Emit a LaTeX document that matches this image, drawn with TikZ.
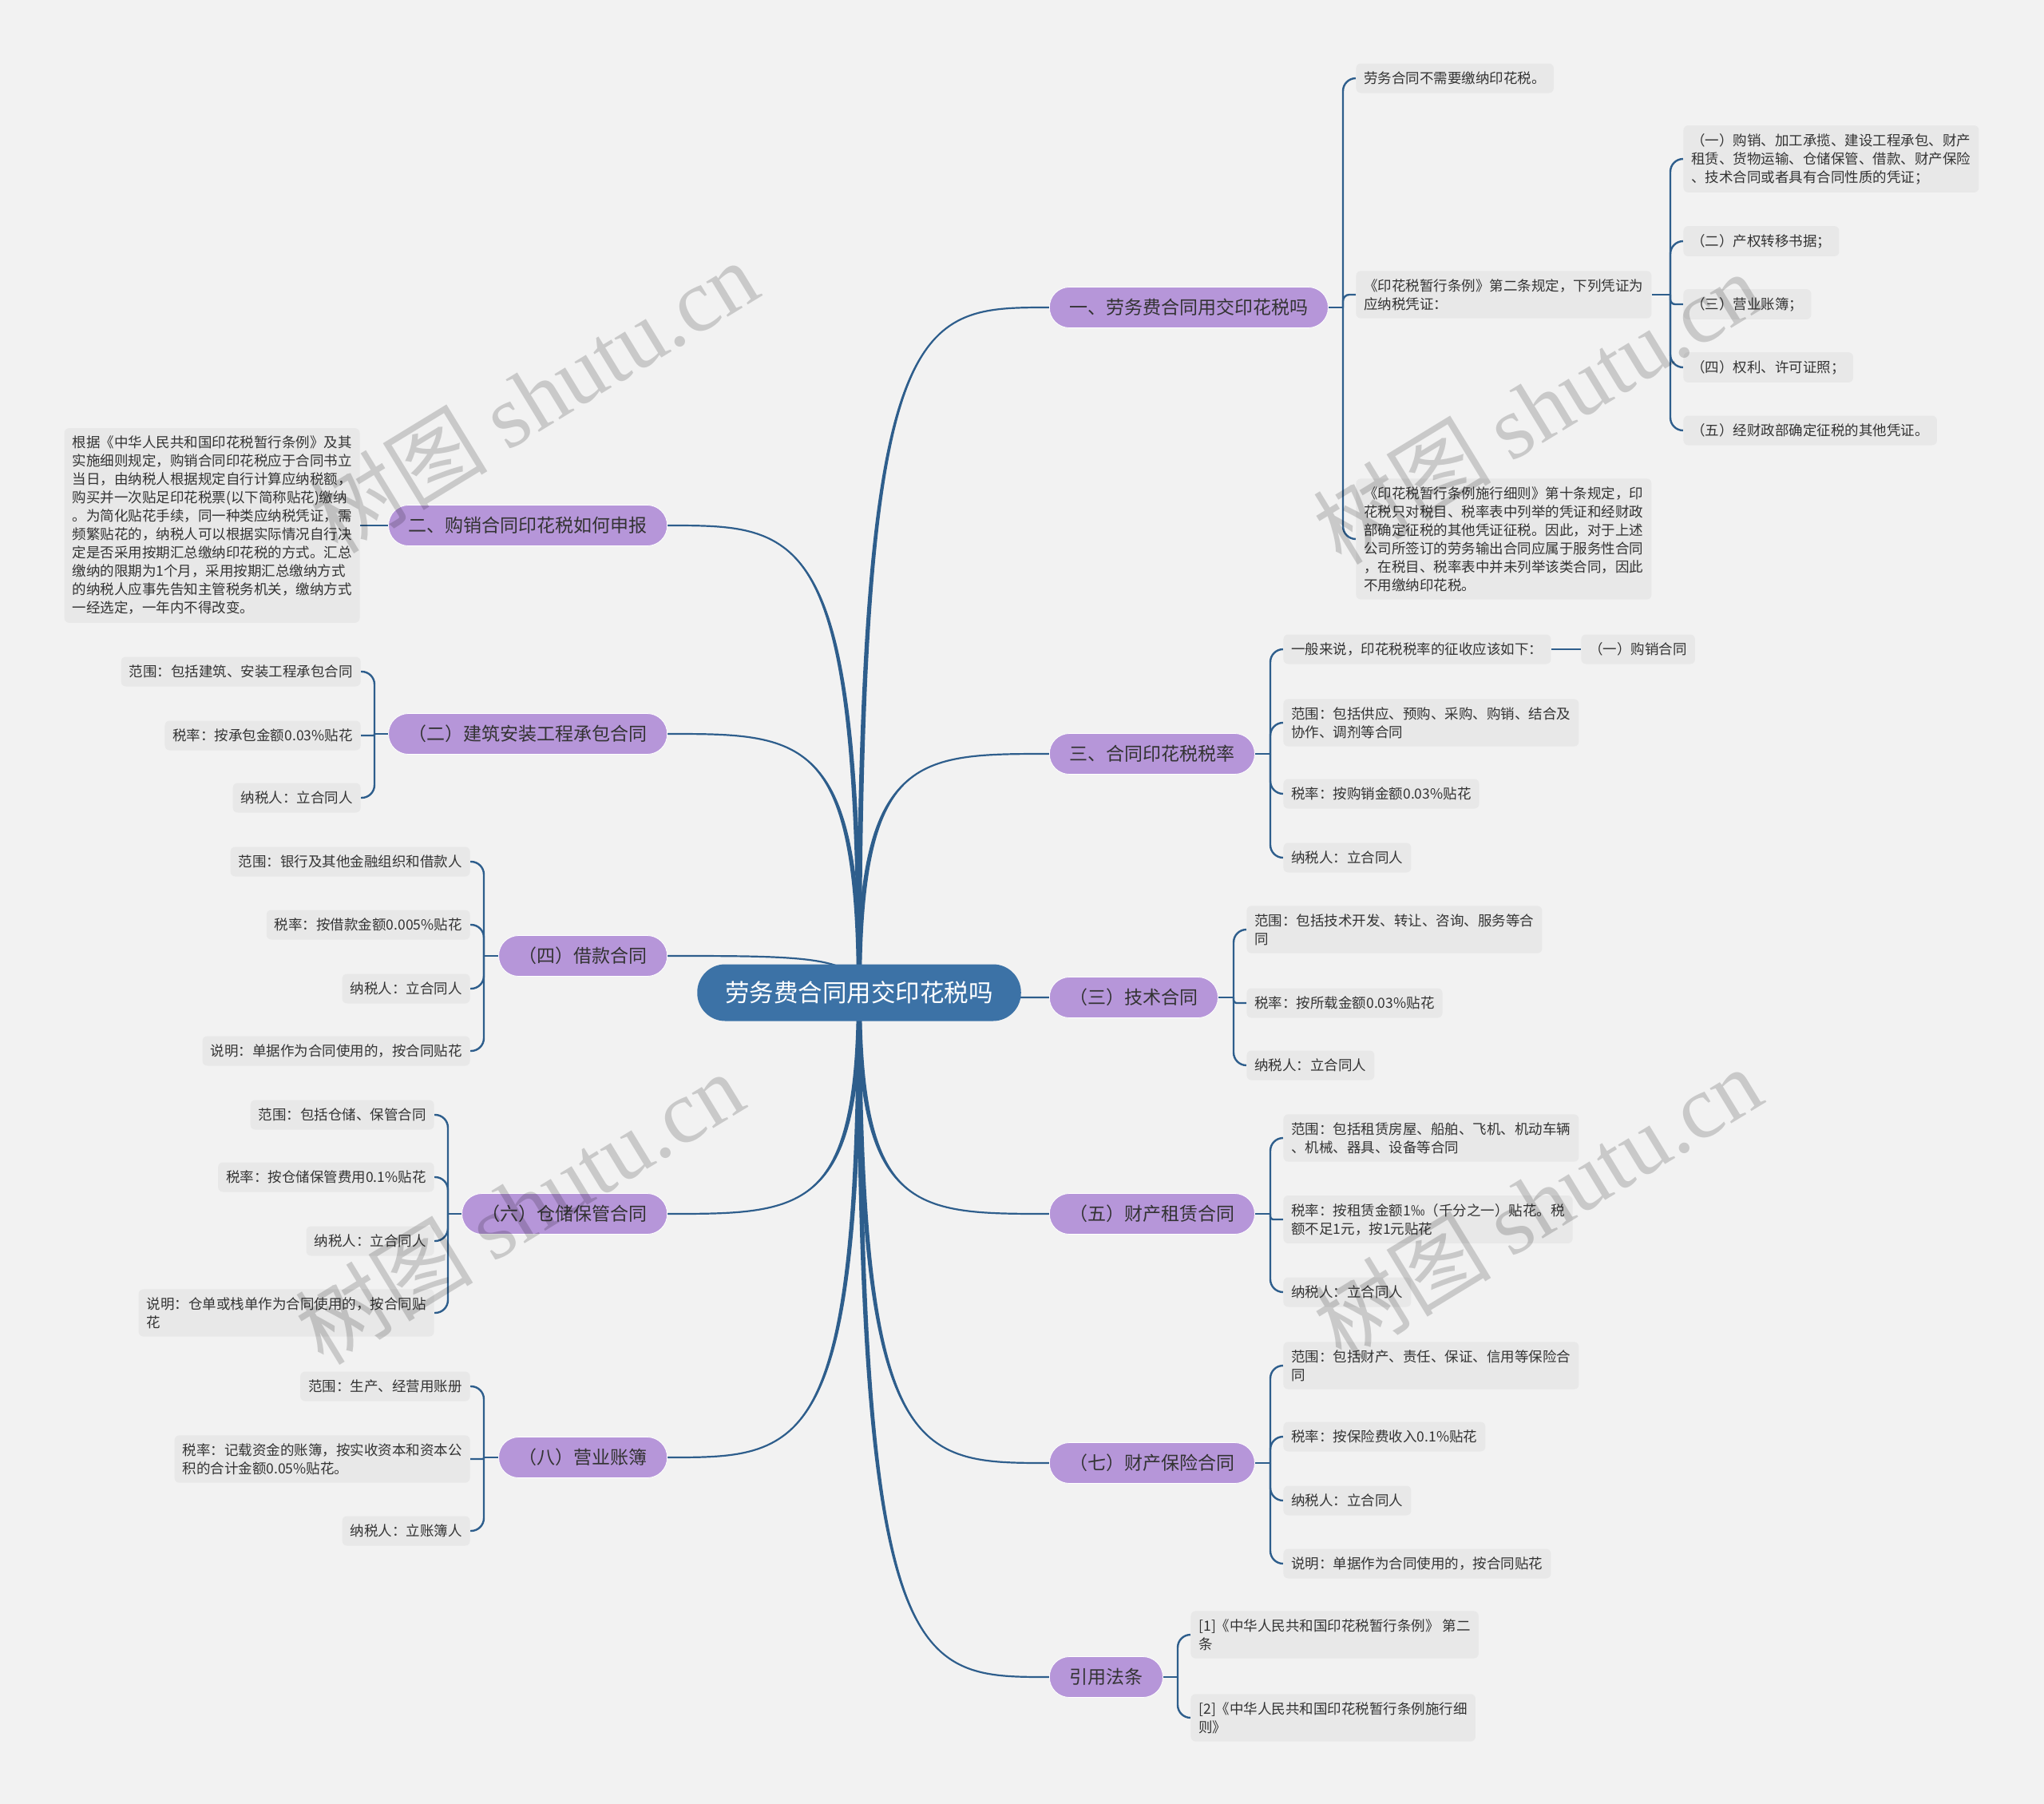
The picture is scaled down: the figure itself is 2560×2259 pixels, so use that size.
\documentclass[tikz,border=0pt]{standalone}
\usepackage{fontspec}
\setmainfont{Noto Sans CJK SC}
\newfontfamily\wmserif{Liberation Serif}
\usetikzlibrary{calc}
\definecolor{bgc}{HTML}{F2F2F2}
\definecolor{leafc}{HTML}{E8E8E8}
\definecolor{branchc}{HTML}{B696D9}
\definecolor{rootc}{HTML}{3C72A6}
\definecolor{linkc}{HTML}{2E5E8C}
\definecolor{txtc}{HTML}{333333}
\pgfdeclarelayer{bg}
\pgfsetlayers{bg,main}
\tikzset{
  leaf/.style={fill=leafc, rounded corners=3pt, text=txtc,
    font=\fontsize{8.75pt}{11.5pt}\selectfont, inner xsep=5pt, inner ysep=5pt,
    minimum height=18.5pt, align=left},
  branch/.style={fill=branchc, draw=white, line width=0.4pt, rounded corners=12.5pt, text=txtc,
    font=\fontsize{11.5pt}{14pt}\selectfont, inner xsep=12.5pt, inner ysep=0pt,
    minimum height=25.5pt},
  rootnode/.style={fill=rootc, rounded corners=17.5pt, text=white,
    font=\fontsize{15.25pt}{18pt}\selectfont, inner xsep=17.5pt, inner ysep=0pt,
    minimum height=35.5pt},
  leaflink/.style={draw=linkc, line width=1.2pt},
  rootlink/.style={draw=linkc, line width=1.1pt},
  wmark/.style={text=black, text opacity=0.17, rotate=31.4, inner sep=0pt}
}
\newcommand\leafR[2]{\draw[leaflink] let \p1=(#1), \p2=(#2.west), \n1={min(8pt,abs(\y2-\y1)/2)} in [rounded corners=\n1] (\p1) |- (\p2);}
\newcommand\leafL[2]{\draw[leaflink] let \p1=(#1), \p2=(#2.east), \n1={min(8pt,abs(\y2-\y1)/2)} in [rounded corners=\n1] (\p1) |- (\p2);}
\newcommand\rootlinkto[2]{%
  \fill[linkc] let \p1=(root.center), \p2=(#1.#2) in
    ($(\x1,\y1)+(-3,0)$) .. controls ($(\x1,\y2)+(-3,0)$) and ($(\x1,\y2)!0.3!(\x2,\y2)$) .. (\x2,\y2)
    .. controls ($(\x1,\y2)!0.3!(\x2,\y2)$) and ($(\x1,\y2)+(3,0)$) .. ($(\x1,\y1)+(3,0)$) -- cycle;
  \draw[rootlink] let \p1=(root.center), \p2=(#1.#2) in
    (\p1) .. controls (\x1,\y2) and ($(\x1,\y2)!0.3!(\x2,\y2)$) .. (\p2);}
\begin{document}
\begin{tikzpicture}[x=0.5pt,y=-0.5pt]
\useasboundingbox (0,0) rectangle (2560,2259);
\begin{pgfonlayer}{bg}
\fill[bgc] (0,0) rectangle (2560,2259);
\end{pgfonlayer}

% root
\node[rootnode] (root) at (1076,1243) {劳务费合同用交印花税吗};

% right branches
\node[branch, anchor=west] (b1) at (1314,385) {一、劳务费合同用交印花税吗};
\node[branch, anchor=west] (b3) at (1314,944) {三、合同印花税税率};
\node[branch, anchor=west] (b4) at (1314,1249) {（三）技术合同};
\node[branch, anchor=west] (b5) at (1314,1520) {（五）财产租赁合同};
\node[branch, anchor=west] (b6) at (1314,1832) {（七）财产保险合同};
\node[branch, anchor=west] (b7) at (1314,2100) {引用法条};

% left branches
\node[branch, anchor=east] (c1) at (836,658) {二、购销合同印花税如何申报};
\node[branch, anchor=east] (c2) at (836,919) {（二）建筑安装工程承包合同};
\node[branch, anchor=east] (c3) at (836,1197) {（四）借款合同};
\node[branch, anchor=east] (c4) at (836,1520) {（六）仓储保管合同};
\node[branch, anchor=east] (c5) at (836,1825) {（八）营业账簿};

% leaves of b1
\node[leaf, anchor=west] (l1a) at (1698,98) {劳务合同不需要缴纳印花税。};
\node[leaf, anchor=west] (l1b) at (1698,369) {《印花税暂行条例》第二条规定，下列凭证为\\应纳税凭证：};
\node[leaf, anchor=west] (l1c) at (1698,675) {《印花税暂行条例施行细则》第十条规定，印\\花税只对税目、税率表中列举的凭证和经财政\\部确定征税的其他凭证征税。因此，对于上述\\公司所签订的劳务输出合同应属于服务性合同\\，在税目、税率表中并未列举该类合同，因此\\不用缴纳印花税。};
\node[leaf, anchor=west] (l1b1) at (2108,199) {（一）购销、加工承揽、建设工程承包、财产\\租赁、货物运输、仓储保管、借款、财产保险\\、技术合同或者具有合同性质的凭证；};
\node[leaf, anchor=west] (l1b2) at (2108,302) {（二）产权转移书据；};
\node[leaf, anchor=west] (l1b3) at (2108,381) {（三）营业账簿；};
\node[leaf, anchor=west] (l1b4) at (2108,460) {（四）权利、许可证照；};
\node[leaf, anchor=west] (l1b5) at (2108,539) {（五）经财政部确定征税的其他凭证。};

% leaves of b3
\node[leaf, anchor=west] (l3a) at (1607,813) {一般来说，印花税税率的征收应该如下：};
\node[leaf, anchor=west] (l3a1) at (1980,813) {（一）购销合同};
\node[leaf, anchor=west] (l3b) at (1607,905) {范围：包括供应、预购、采购、购销、结合及\\协作、调剂等合同};
\node[leaf, anchor=west] (l3c) at (1607,994) {税率：按购销金额0.03\%贴花};
\node[leaf, anchor=west] (l3d) at (1607,1074) {纳税人：立合同人};

% leaves of b4
\node[leaf, anchor=west] (l4a) at (1561,1164) {范围：包括技术开发、转让、咨询、服务等合\\同};
\node[leaf, anchor=west] (l4b) at (1561,1256) {税率：按所载金额0.03\%贴花};
\node[leaf, anchor=west] (l4c) at (1561,1334) {纳税人：立合同人};

% leaves of b5
\node[leaf, anchor=west] (l5a) at (1607,1425) {范围：包括租赁房屋、船舶、飞机、机动车辆\\、机械、器具、设备等合同};
\node[leaf, anchor=west] (l5b) at (1607,1527) {税率：按租赁金额1‰（千分之一）贴花。税\\额不足1元，按1元贴花};
\node[leaf, anchor=west] (l5c) at (1607,1618) {纳税人：立合同人};

% leaves of b6
\node[leaf, anchor=west] (l6a) at (1607,1710) {范围：包括财产、责任、保证、信用等保险合\\同};
\node[leaf, anchor=west] (l6b) at (1607,1799) {税率：按保险费收入0.1\%贴花};
\node[leaf, anchor=west] (l6c) at (1607,1879) {纳税人：立合同人};
\node[leaf, anchor=west] (l6d) at (1607,1958) {说明：单据作为合同使用的，按合同贴花};

% leaves of b7
\node[leaf, anchor=west] (l7a) at (1491,2047) {[1]《中华人民共和国印花税暂行条例》 第二\\条};
\node[leaf, anchor=west] (l7b) at (1491,2151) {[2]《中华人民共和国印花税暂行条例施行细\\则》};

% leaves of c1
\node[leaf, anchor=east] (m1) at (451,658) {根据《中华人民共和国印花税暂行条例》及其\\实施细则规定，购销合同印花税应于合同书立\\当日，由纳税人根据规定自行计算应纳税额，\\购买并一次贴足印花税票(以下简称贴花)缴纳\\。为简化贴花手续，同一种类应纳税凭证，需\\频繁贴花的，纳税人可以根据实际情况自行决\\定是否采用按期汇总缴纳印花税的方式。汇总\\缴纳的限期为1个月，采用按期汇总缴纳方式\\的纳税人应事先告知主管税务机关，缴纳方式\\一经选定，一年内不得改变。};

% leaves of c2
\node[leaf, anchor=east] (m2a) at (452,841) {范围：包括建筑、安装工程承包合同};
\node[leaf, anchor=east] (m2b) at (452,921) {税率：按承包金额0.03\%贴花};
\node[leaf, anchor=east] (m2c) at (452,999) {纳税人：立合同人};

% leaves of c3
\node[leaf, anchor=east] (m3a) at (589,1079) {范围：银行及其他金融组织和借款人};
\node[leaf, anchor=east] (m3b) at (589,1158) {税率：按借款金额0.005\%贴花};
\node[leaf, anchor=east] (m3c) at (589,1238) {纳税人：立合同人};
\node[leaf, anchor=east] (m3d) at (589,1316) {说明：单据作为合同使用的，按合同贴花};

% leaves of c4
\node[leaf, anchor=east] (m4a) at (544,1396) {范围：包括仓储、保管合同};
\node[leaf, anchor=east] (m4b) at (544,1474) {税率：按仓储保管费用0.1\%贴花};
\node[leaf, anchor=east] (m4c) at (544,1554) {纳税人：立合同人};
\node[leaf, anchor=east] (m4d) at (544,1644) {说明：仓单或栈单作为合同使用的，按合同贴\\花};

% leaves of c5
\node[leaf, anchor=east] (m5a) at (589,1736) {范围：生产、经营用账册};
\node[leaf, anchor=east] (m5b) at (589,1827) {税率：记载资金的账簿，按实收资本和资本公\\积的合计金额0.05\%贴花。};
\node[leaf, anchor=east] (m5c) at (589,1917) {纳税人：立账簿人};

% junctions
\coordinate (b1j) at (1682,385);
\coordinate (l1bj) at (2092,369);
\coordinate (b3j) at (1591,944);
\coordinate (b4j) at (1545,1249);
\coordinate (b5j) at (1591,1520);
\coordinate (b6j) at (1591,1832);
\coordinate (b7j) at (1475,2100);
\coordinate (c2j) at (469,919);
\coordinate (c3j) at (606,1197);
\coordinate (c4j) at (561,1520);
\coordinate (c5j) at (606,1825);

\begin{pgfonlayer}{bg}
% root links
\rootlinkto{b1}{west}
\rootlinkto{b3}{west}
\rootlinkto{b4}{west}
\rootlinkto{b5}{west}
\rootlinkto{b6}{west}
\rootlinkto{b7}{west}
\rootlinkto{c1}{east}
\rootlinkto{c2}{east}
\rootlinkto{c3}{east}
\rootlinkto{c4}{east}
\rootlinkto{c5}{east}
% branch to junction
\draw[leaflink] (b1.east) -- (b1j);
\draw[leaflink] (l1b.east) -- (l1bj);
\draw[leaflink] (b3.east) -- (b3j);
\draw[leaflink] (b4.east) -- (b4j);
\draw[leaflink] (b5.east) -- (b5j);
\draw[leaflink] (b6.east) -- (b6j);
\draw[leaflink] (b7.east) -- (b7j);
\draw[leaflink] (c2.west) -- (c2j);
\draw[leaflink] (c3.west) -- (c3j);
\draw[leaflink] (c4.west) -- (c4j);
\draw[leaflink] (c5.west) -- (c5j);
% leaves
\leafR{b1j}{l1a}\leafR{b1j}{l1b}\leafR{b1j}{l1c}
\leafR{l1bj}{l1b1}\leafR{l1bj}{l1b2}\leafR{l1bj}{l1b3}\leafR{l1bj}{l1b4}\leafR{l1bj}{l1b5}
\leafR{b3j}{l3a}\leafR{b3j}{l3b}\leafR{b3j}{l3c}\leafR{b3j}{l3d}
\draw[leaflink] (l3a.east) -- (l3a1.west);
\leafR{b4j}{l4a}\leafR{b4j}{l4b}\leafR{b4j}{l4c}
\leafR{b5j}{l5a}\leafR{b5j}{l5b}\leafR{b5j}{l5c}
\leafR{b6j}{l6a}\leafR{b6j}{l6b}\leafR{b6j}{l6c}\leafR{b6j}{l6d}
\leafR{b7j}{l7a}\leafR{b7j}{l7b}
\draw[leaflink] (c1.west) -- (m1.east);
\leafL{c2j}{m2a}\leafL{c2j}{m2b}\leafL{c2j}{m2c}
\leafL{c3j}{m3a}\leafL{c3j}{m3b}\leafL{c3j}{m3c}\leafL{c3j}{m3d}
\leafL{c4j}{m4a}\leafL{c4j}{m4b}\leafL{c4j}{m4c}\leafL{c4j}{m4d}
\leafL{c5j}{m5a}\leafL{c5j}{m5b}\leafL{c5j}{m5c}
\end{pgfonlayer}

% watermarks
\node[wmark] (w1) at (668,496) {\fontsize{56pt}{56pt}\selectfont 树图 {\wmserif shutu.cn}};
\node[wmark] (w2) at (1925,510) {\fontsize{56pt}{56pt}\selectfont 树图 {\wmserif shutu.cn}};
\node[wmark] (w3) at (650,1512) {\fontsize{56pt}{56pt}\selectfont 树图 {\wmserif shutu.cn}};
\node[wmark] (w4) at (1925,1506) {\fontsize{56pt}{56pt}\selectfont 树图 {\wmserif shutu.cn}};
\end{tikzpicture}
\end{document}
